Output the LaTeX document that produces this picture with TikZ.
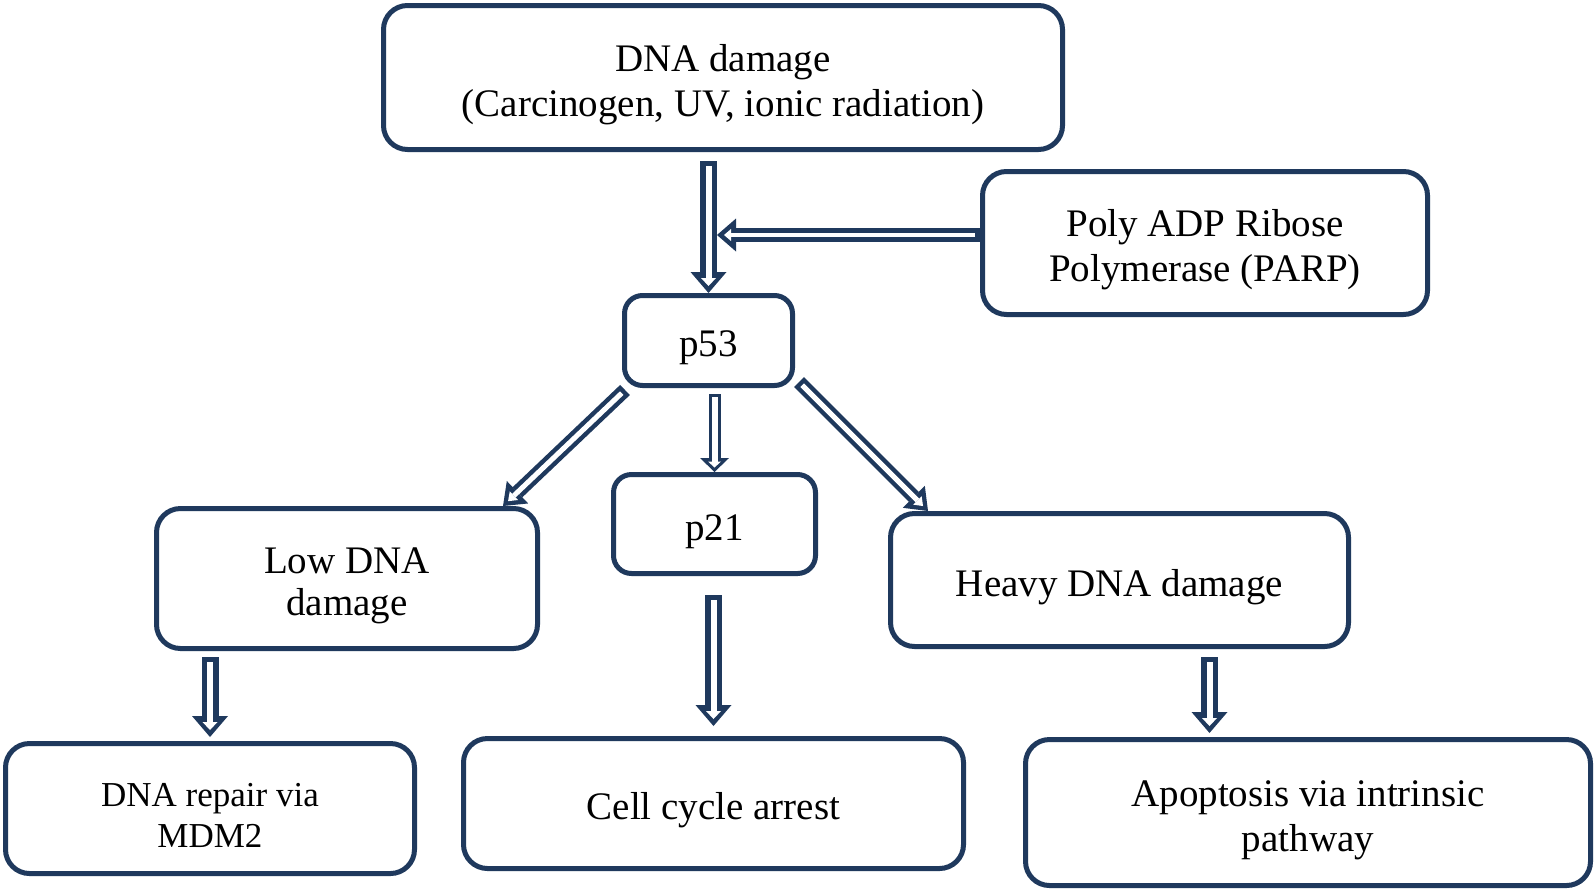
\documentclass[tikz,border=0pt]{standalone}
\usepackage{fontspec}
\setmainfont{Liberation Serif}
\usetikzlibrary{arrows.meta}
\definecolor{navy}{RGB}{31,57,93}
\newcommand{\tup}{\rule{0pt}{1.05em}}
\tikzset{
  box/.style={draw=navy, line width=5pt, rounded corners=24pt, fill=white, align=center,
    font=\fontsize{39}{45}\selectfont, inner sep=0pt},
  bigarrow/.style={draw=navy, line width=17pt, -{Triangle[length=21pt,width=36pt,line width=0pt]},
    postaction={draw=white, line width=6pt, shorten <=5pt, shorten >=7pt,
      -{Triangle[length=8pt,width=15pt,line width=0pt]}}},
  harrow/.style={draw=navy, line width=14pt, -{Triangle[length=19pt,width=33pt,line width=0pt]},
    postaction={draw=white, line width=4pt, shorten <=5pt, shorten >=7pt,
      -{Triangle[length=7pt,width=12pt,line width=0pt]}}},
  diagarrow/.style={draw=navy, line width=14pt, -{Triangle[length=20pt,width=31pt,line width=0pt]},
    postaction={draw=white, line width=5pt, shorten <=4.5pt, shorten >=7pt,
      -{Triangle[length=8pt,width=12pt,line width=0pt]}}},
  smallarrow/.style={draw=navy, line width=12pt, -{Triangle[length=14pt,width=29pt,line width=0pt]},
    postaction={draw=white, line width=6pt, shorten <=3pt, shorten >=4.5pt,
      -{Triangle[length=6pt,width=13pt,line width=0pt]}}},
}
\begin{document}
\begin{tikzpicture}[x=1pt,y=-1pt]
\useasboundingbox[fill=white] (0,0) rectangle (1594,892);
\node[box, minimum width=679pt, minimum height=144pt] (dna) at (723,77.5)
  {\tup DNA damage\\(Carcinogen, UV, ionic radiation)};
\node[box, minimum width=445pt, minimum height=143pt] (parp) at (1205,243)
  {\tup Poly ADP Ribose\\Polymerase (PARP)};
\node[box, minimum width=168pt, minimum height=90pt, rounded corners=18pt] (p53) at (708.5,340.5) {\tup p53};
\node[box, minimum width=202pt, minimum height=99pt, rounded corners=18pt] (p21) at (714.5,524) {\tup p21};
\node[box, minimum width=381pt, minimum height=140pt, font=\fontsize{39}{42}\selectfont] (low) at (347,578.5) {\tup Low DNA\\damage};
\node[box, minimum width=458pt, minimum height=133pt] (heavy) at (1119.5,580) {\tup Heavy DNA damage};
\node[box, minimum width=409pt, minimum height=130pt, font=\fontsize{35}{41}\selectfont] (repair) at (210,808.5)
  {\tup DNA repair via\\MDM2};
\node[box, minimum width=500pt, minimum height=130pt] (cell) at (713.5,803.5) {\tup Cell cycle arrest};
\node[box, minimum width=565pt, minimum height=146pt] (apo) at (1308,812.5)
  {\tup Apoptosis via intrinsic\\pathway};
\coordinate (j) at (717,235);
\coordinate (hx) at ([xshift=90pt]heavy.south);
\draw[bigarrow] ([yshift=-9pt]dna.south -| p53.north) -- (p53.north);
\draw[harrow] (parp.west |- j) -- (j);
\draw[diagarrow] ([shift={(3pt,-2pt)}]p53.south west) -- ([xshift=-37pt]low.north east);
\draw[diagarrow] ([shift={(4pt,6pt)}]p53.south east) -- ([xshift=40pt]heavy.north west);
\draw[smallarrow] ([yshift=-6pt]p53.south -| p21.north) -- (p21.north);
\draw[bigarrow] ([yshift=-6pt]low.south -| repair.north) -- ([yshift=4pt]repair.north);
\draw[bigarrow] ([yshift=-19pt]p21.south -| cell.north) -- ([yshift=10pt]cell.north);
\draw[bigarrow] ([yshift=-8pt]hx) -- ([yshift=4pt]hx |- apo.north);
\end{tikzpicture}
\end{document}
